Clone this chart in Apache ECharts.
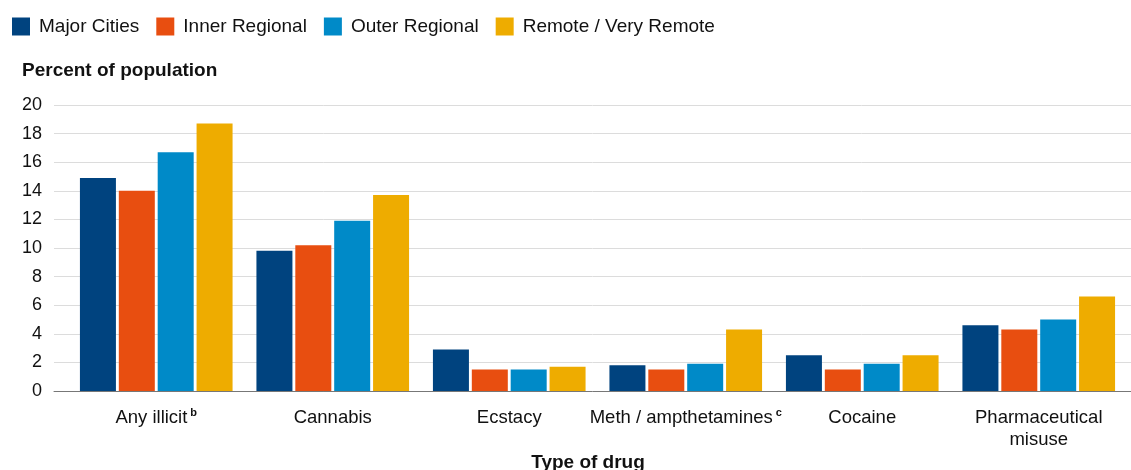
<!DOCTYPE html>
<html><head><meta charset="utf-8">
<script src="https://cdn.jsdelivr.net/npm/echarts@6/dist/echarts.min.js"></script>
<style>html,body{margin:0;padding:0;background:#fff}#c{width:1131px;height:470px}</style>
</head><body><div id="c"></div>
<script>
const categories = ['Any illicit{sup|b}', 'Cannabis', 'Ecstacy', 'Meth / ampthetamines{sup|c}', 'Cocaine', 'Pharmaceutical\nmisuse'];
const seriesNames = ['Major Cities', 'Inner Regional', 'Outer Regional', 'Remote / Very Remote'];
const majorCities = [14.9, 9.8, 2.9, 1.8, 2.5, 4.6];
const innerRegional = [14.0, 10.2, 1.5, 1.5, 1.5, 4.3];
const outerRegional = [16.7, 11.9, 1.5, 1.9, 1.9, 5.0];
const remote = [18.7, 13.7, 1.7, 4.3, 2.5, 6.6];
const yTicks = [0, 2, 4, 6, 8, 10, 12, 14, 16, 18, 20];
const colors = ['#00437F', '#E84E10', '#008AC8', '#EEAC00'];
const FONT = '"Liberation Sans", Arial, sans-serif';

const chart = echarts.init(document.getElementById('c'), null, {renderer: 'canvas'});
const values = [majorCities, innerRegional, outerRegional, remote];
chart.setOption({
  animation: false,
  textStyle: {fontFamily: FONT},
  color: colors,
  title: [
    {text: 'Percent of population', left: 17, top: 56, textStyle: {fontFamily: FONT, fontSize: 19, fontWeight: 'bold', color: '#111'}},
    {text: 'Type of drug', left: 583, textAlign: 'center', top: 448, textStyle: {fontFamily: FONT, fontSize: 19, fontWeight: 'bold', color: '#111'}}
  ],
  legend: {
    left: 12, top: 17, padding: 0, itemWidth: 18, itemHeight: 18, itemGap: 17,
    icon: 'rect',
    textStyle: {fontFamily: FONT, fontSize: 19, color: '#111', padding: [0, 0, 0, 4]},
    data: seriesNames
  },
  grid: [
    {left: 54, right: 0, top: 105, bottom: 79},
    {left: 68, right: 4, top: 105, bottom: 79}
  ],
  xAxis: [
    {type: 'category', gridIndex: 0, data: categories, axisLabel: {show: false}, axisTick: {show: false},
     axisLine: {lineStyle: {color: '#777', width: 1}}},
    {type: 'category', gridIndex: 1, data: categories, axisTick: {show: false}, axisLine: {show: false},
     axisLabel: {fontFamily: FONT, fontSize: 18.5, color: '#111', margin: 16, lineHeight: 22, interval: 0,
       rich: {sup: {fontSize: 11, fontWeight: 'bold', verticalAlign: 'top', lineHeight: 16, fontFamily: FONT, color: '#111', padding: [0, 0, 6, 3]}}}}
  ],
  yAxis: [
    {type: 'value', gridIndex: 0, min: 0, max: 20, interval: 2,
     axisLabel: {fontFamily: FONT, fontSize: 18, color: '#111', margin: 12,
       formatter: v => yTicks.includes(v) ? String(v) : ''},
     splitLine: {lineStyle: {color: '#dcdcdc', width: 1}}, axisLine: {show: false}, axisTick: {show: false}},
    {type: 'value', gridIndex: 1, min: 0, max: 20, interval: 2, show: false, splitLine: {show: false}}
  ],
  series: seriesNames.map((n, i) => ({
    name: n, type: 'bar', xAxisIndex: 1, yAxisIndex: 1, data: values[i],
    barWidth: 36, barGap: '8%',
    itemStyle: {color: colors[i]}
  }))
});
</script></body></html>
